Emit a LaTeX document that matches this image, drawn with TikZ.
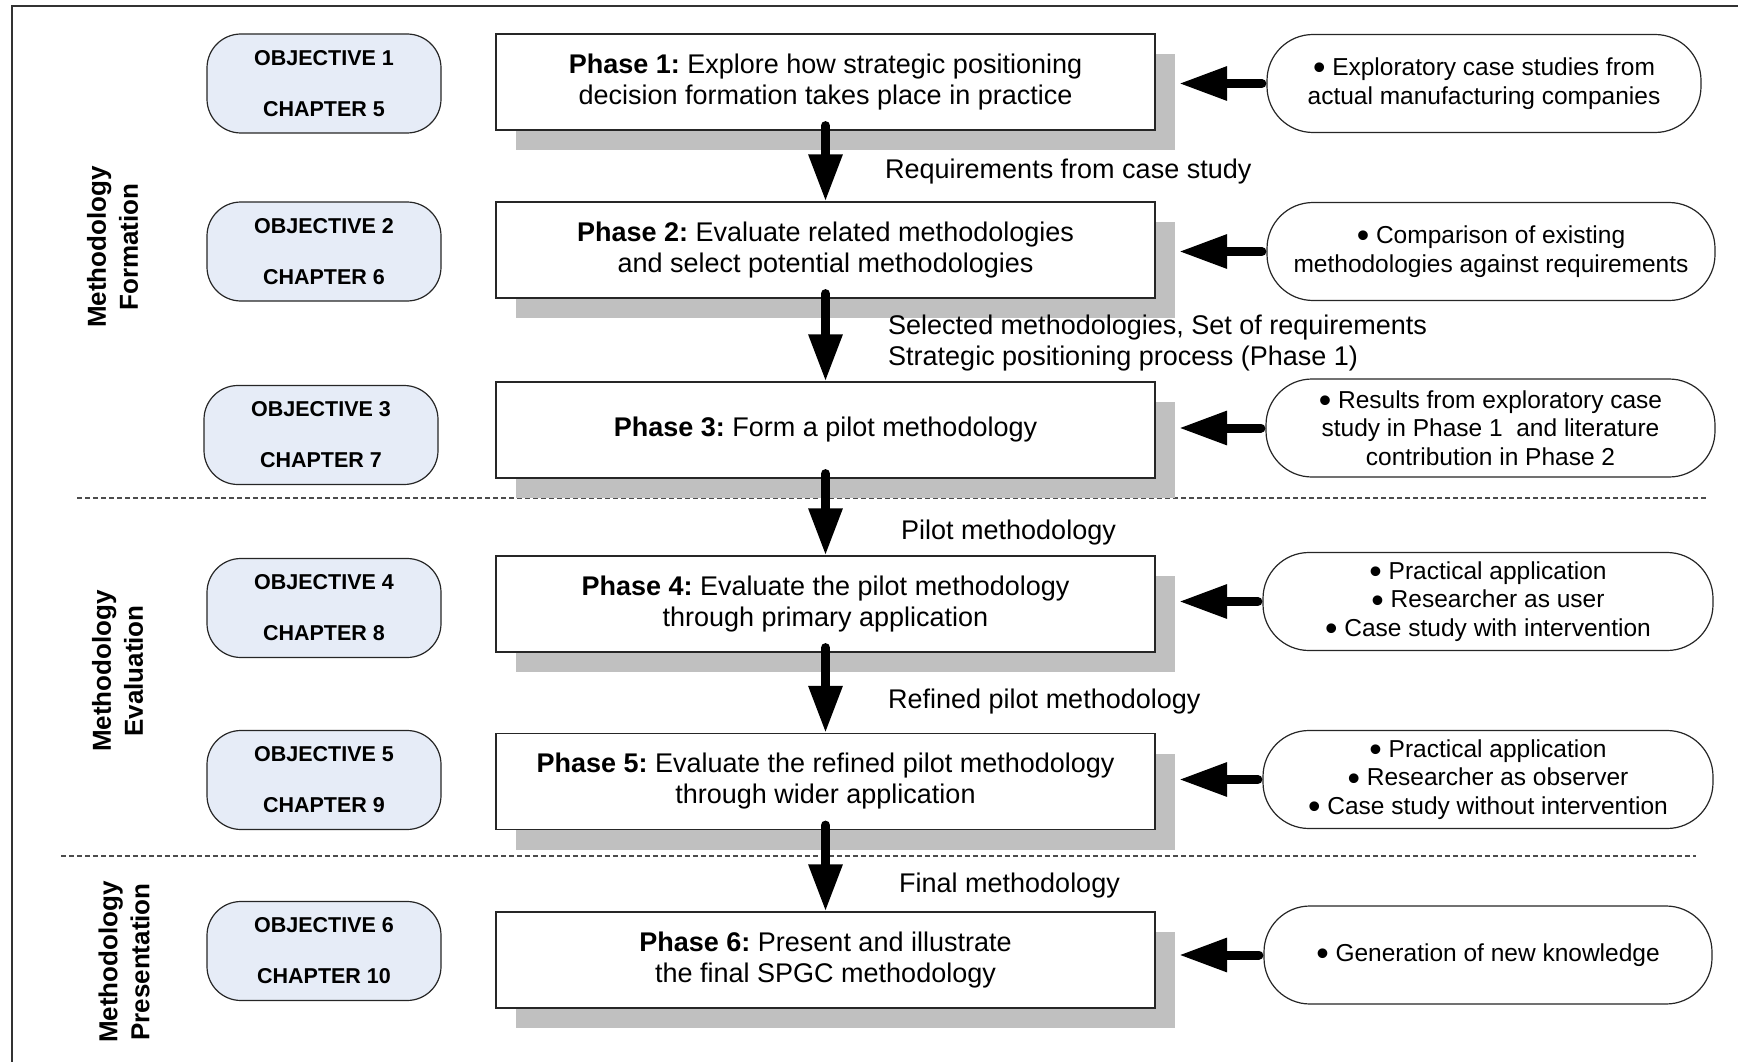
\documentclass[tikz,border=0pt]{standalone}
\usepackage{fontspec}
\usepackage{graphicx}
\setmainfont{Liberation Sans}
\usetikzlibrary{arrows.meta,shadows}
\definecolor{objfill}{RGB}{230,236,247}
\definecolor{shade}{RGB}{192,192,192}
\definecolor{frameline}{RGB}{50,50,50}
\newcommand\blt{\smash{\raisebox{-0.17em}{\scalebox{1.45}{\textbullet}}}}
\frenchspacing

\begin{document}
\begin{tikzpicture}[x=1pt,y=-1pt,
  objbox/.style={draw=black!85, line width=1.2pt, fill=objfill, rounded corners=34pt,
    minimum width=234pt, minimum height=99pt, inner sep=0pt, align=center,
    font=\fontsize{21.5}{51}\selectfont\bfseries},
  phasebox/.style={draw=black!85, line width=1.2pt, fill=white,
    minimum width=659pt, minimum height=96pt, inner sep=0pt, align=center,
    font=\fontsize{27}{31}\selectfont,
    drop shadow={shadow xshift=20pt, shadow yshift=-20pt, fill=shade, opacity=1}},
  srcbox/.style={draw=black!85, line width=1.2pt, fill=white, rounded corners=46pt,
    minimum height=98pt, inner sep=0pt, align=center,
    font=\fontsize{24.5}{28.5}\selectfont},
  flow/.style={line width=9pt, line cap=round, -{Triangle[length=47pt,width=32pt]}},
  feed/.style={line width=9pt, line cap=round, shorten <=4.5pt, -{Triangle[length=48pt,width=32pt]}},
  note/.style={anchor=west, inner sep=0pt, align=left, font=\fontsize{27}{31}\selectfont},
  stage/.style={rotate=90, align=center, inner sep=0pt, font=\fontsize{26}{32}\selectfont\bfseries},
  divider/.style={draw=black!70, line width=1.2pt, dash pattern=on 5pt off 3pt}
]
\useasboundingbox (0,0) rectangle (1738,1062);

% outer frame (top and left edges)
\draw[frameline, line width=1.3pt] (12,1062) -- (12,6) -- (1738,6);

% stage dividers
\draw[divider] (77,498) -- (1707,498);
\draw[divider] (61,856) -- (1696,856);

% stage titles
\node[stage] (g1) at (112.5,247) {Methodology\\Formation};
\node[stage] (g2) at (117.5,671) {Methodology\\Evaluation};
\node[stage] (g3) at (124,962) {Methodology\\Presentation};

% objectives and chapters
\node[objbox] (o1) at (324,83.5) {OBJECTIVE 1\\CHAPTER 5};
\node[objbox] (o2) at (324,251.5) {OBJECTIVE 2\\CHAPTER 6};
\node[objbox] (o3) at (321,435) {OBJECTIVE 3\\CHAPTER 7};
\node[objbox] (o4) at (324,608) {OBJECTIVE 4\\CHAPTER 8};
\node[objbox] (o5) at (324,780) {OBJECTIVE 5\\CHAPTER 9};
\node[objbox] (o6) at (324,951) {OBJECTIVE 6\\CHAPTER 10};

% research phases
\node[phasebox] (p1) at (825.5,82) {\textbf{Phase 1:} Explore how strategic positioning\\decision formation takes place in practice};
\node[phasebox] (p2) at (825.5,250) {\textbf{Phase 2:} Evaluate related methodologies\\and select potential methodologies};
\node[phasebox] (p3) at (825.5,430) {\textbf{Phase 3:} Form a pilot methodology};
\node[phasebox] (p4) at (825.5,604) {\textbf{Phase 4:} Evaluate the pilot methodology\\through primary application};
\node[phasebox] (p5) at (825.5,781.5) {\textbf{Phase 5:} Evaluate the refined pilot methodology\\through wider application};
\node[phasebox] (p6) at (825.5,960) {\textbf{Phase 6:} Present and illustrate\\the final SPGC methodology};

% sources feeding each phase
\node[srcbox, minimum width=434pt] (s1) at (1484,83.5) {\blt{} Exploratory case studies from\\actual manufacturing companies};
\node[srcbox, minimum width=448pt] (s2) at (1491,251.5) {\blt{} Comparison of existing\\methodologies against requirements};
\node[srcbox, minimum width=449pt] (s3) at (1490.5,428) {\blt{} Results from exploratory case\\study in Phase 1~ and literature\\contribution in Phase 2};
\node[srcbox, minimum width=450pt] (s4) at (1488,601.5) {\blt{} Practical application\\\blt{} Researcher as user\\\blt{} Case study with intervention};
\node[srcbox, minimum width=450pt] (s5) at (1488,779.5) {\blt{} Practical application\\\blt{} Researcher as observer\\\blt{} Case study without intervention};
\node[srcbox, minimum width=448pt] (s6) at (1488,955) {\blt{} Generation of new knowledge};

% arrow targets beside the phase boxes
\coordinate (t1) at (1179,83.5);
\coordinate (t2) at (1179,251.5);
\coordinate (t3) at (1179,428);
\coordinate (t4) at (1179,601.5);
\coordinate (t5) at (1179,779.5);
\coordinate (t6) at (1179,955);

\draw[feed] (s1.west) -- (t1);
\draw[feed] (s2.west) -- (t2);
\draw[feed] (s3.west) -- (t3);
\draw[feed] (s4.west) -- (t4);
\draw[feed] (s5.west) -- (t5);
\draw[feed] (s6.west) -- (t6);

% phase-to-phase flow
\draw[flow] ([yshift=5pt]p1.south) -- (p2.north);
\draw[flow] ([yshift=5pt]p2.south) -- (p3.north);
\draw[flow] ([yshift=5pt]p3.south) -- (p4.north);
\draw[flow] ([yshift=5pt]p4.south) -- (p5.north);
\draw[flow] ([yshift=5pt]p5.south) -- (p6.north);

% outputs passed between phases
\node[note] (l1) at (885,171.5) {Requirements from case study};
\node[note] (l2) at (888,343.5) {Selected methodologies, Set of requirements\\Strategic positioning process (Phase 1)};
\node[note] (l3) at (901,533) {Pilot methodology};
\node[note] (l4) at (888,702) {Refined pilot methodology};
\node[note] (l5) at (899,886) {Final methodology};
\end{tikzpicture}
\end{document}
